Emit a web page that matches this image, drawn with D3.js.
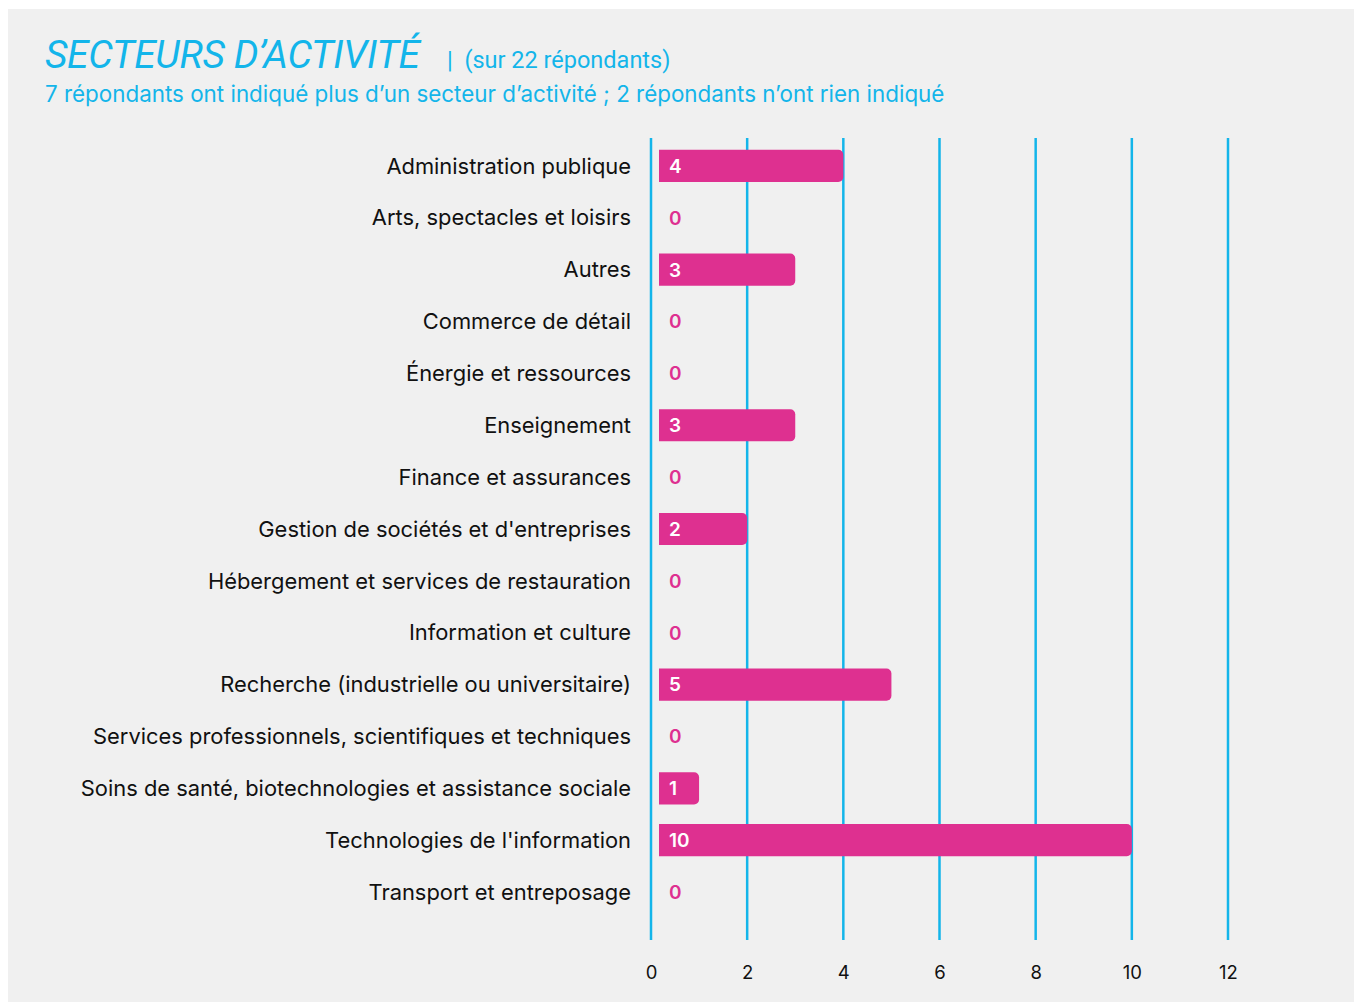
<!DOCTYPE html>
<html><head><meta charset="utf-8">
<script src="https://cdn.jsdelivr.net/npm/d3@7"></script>
<style>
html,body{margin:0;padding:0;background:#fff;}
svg{display:block;}
</style></head>
<body>
<svg id="chart" width="1354" height="1002"></svg>
<script>
const categories = [
  "Administration publique",
  "Arts, spectacles et loisirs",
  "Autres",
  "Commerce de détail",
  "Énergie et ressources",
  "Enseignement",
  "Finance et assurances",
  "Gestion de sociétés et d'entreprises",
  "Hébergement et services de restauration",
  "Information et culture",
  "Recherche (industrielle ou universitaire)",
  "Services professionnels, scientifiques et techniques",
  "Soins de santé, biotechnologies et assistance sociale",
  "Technologies de l'information",
  "Transport et entreposage"
];
const values = [4, 0, 3, 0, 0, 3, 0, 2, 0, 0, 5, 0, 1, 10, 0];
const tickValues = [0, 2, 4, 6, 8, 10, 12];
const titleText = "SECTEURS D’ACTIVITÉ";
const titleNote = "|  (sur 22 répondants)";
const subtitleText = "7 répondants ont indiqué plus d’un secteur d’activité ; 2 répondants n’ont rien indiqué";

const blue = "#13b5ea", pink = "#de3090";
const titleFont = "Roboto, sans-serif";
const font = "Inter, 'Open Sans', sans-serif";
const svg = d3.select("#chart");
svg.append("rect").attr("x", 8).attr("y", 9).attr("width", 1346).attr("height", 993).attr("fill", "#f0f0f0");

svg.append("text").attr("x", 45).attr("y", 68).attr("fill", blue)
  .attr("font-family", titleFont).attr("font-style", "italic").attr("font-size", 39)
  .attr("letter-spacing", -0.35).text(titleText);
svg.append("text").attr("x", 447).attr("y", 68).attr("fill", blue)
  .attr("font-family", titleFont).attr("font-size", 23.5).attr("xml:space", "preserve").text(titleNote);
svg.append("text").attr("x", 45).attr("y", 102).attr("fill", blue)
  .attr("font-family", font).attr("font-size", 22.4).text(subtitleText);

const x = d3.scaleLinear().domain([0, 12]).range([651, 1228]);
const y = d3.scaleBand().domain(categories).range([140, 918]).paddingInner(0.38).paddingOuter(0.19);

// gridlines
svg.append("g").selectAll("line").data(tickValues).join("line")
  .attr("x1", d => x(d)).attr("x2", d => x(d))
  .attr("y1", 138).attr("y2", 940)
  .attr("stroke", blue).attr("stroke-width", 2.5);

// x axis labels
const axis = d3.axisBottom(x).tickValues(tickValues).tickSize(0).tickPadding(0);
const ag = svg.append("g").attr("transform", "translate(0,979)").call(axis);
ag.select(".domain").remove();
ag.selectAll("text").attr("font-family", font).attr("font-size", 18.5).attr("fill", "#111").attr("dy", 0);

// category labels
svg.append("g").selectAll("text").data(categories).join("text")
  .attr("x", 631).attr("y", d => y(d) + y.bandwidth() / 2).attr("dy", "0.35em")
  .attr("text-anchor", "end").attr("font-family", font).attr("font-size", 21.9)
  .attr("fill", "#111")
  .text(d => d);

// bars (rounded right corners)
const r = 5, x0 = x(0) + 8;
const data = categories.map((c, i) => ({c, v: values[i]}));
svg.append("g").selectAll("path").data(data.filter(d => d.v > 0)).join("path")
  .attr("fill", pink)
  .attr("d", d => {
    const x1 = x(d.v), yt = y(d.c), h = y.bandwidth();
    return `M${x0},${yt}H${x1 - r}A${r},${r} 0 0 1 ${x1},${yt + r}V${yt + h - r}A${r},${r} 0 0 1 ${x1 - r},${yt + h}H${x0}Z`;
  });

// value labels
svg.append("g").selectAll("text").data(data).join("text")
  .attr("x", 669).attr("y", d => y(d.c) + y.bandwidth() / 2).attr("dy", "0.36em")
  .attr("font-family", font).attr("font-size", 19).attr("font-weight", 600)
  .attr("fill", d => d.v > 0 ? "#fff" : pink)
  .text(d => d.v);
</script>
</body></html>
